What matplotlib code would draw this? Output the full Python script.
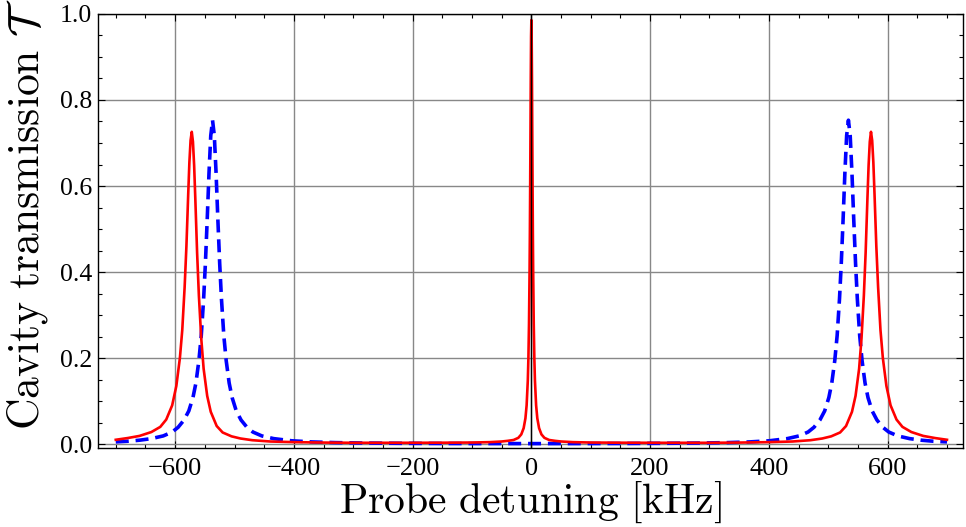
import numpy as np
import matplotlib
matplotlib.use('Agg')
import matplotlib.pyplot as plt
from matplotlib.ticker import MultipleLocator

plt.rcParams['mathtext.fontset'] = 'cm'
plt.rcParams['font.family'] = ['Liberation Serif', 'DejaVu Serif']

# red solid curve
red_x = [-700, -680, -660, -640, -625, -615, -605, -598, -592, -588, -584, -581,
         -578, -576, -574, -572, -570, -568, -566, -563, -560, -556, -552, -546,
         -540, -530, -520, -505, -490, -470, -440, -400, -350, -300, -250, -200,
         -150, -100, -70, -50, -40, -30, -22, -17, -13, -10, -8, -6, -5, -4, -3,
         -2.5, -2, -1.5, -1, -0.5, 0,
         0.5, 1, 1.5, 2, 2.5, 3, 4, 5, 6, 8, 10, 13, 17, 22, 30, 40, 50, 70, 100,
         150, 200, 250, 300, 350, 400, 440, 470, 490, 505, 520, 530, 540, 546,
         552, 556, 560, 563, 566, 568, 570, 572, 574, 576, 578, 581, 584, 588,
         592, 598, 605, 615, 625, 640, 660, 680, 700]
red_y = [0.010, 0.014, 0.019, 0.028, 0.040, 0.057, 0.090, 0.135, 0.200, 0.265,
         0.365, 0.460, 0.580, 0.655, 0.706, 0.726, 0.703, 0.648, 0.570, 0.445,
         0.345, 0.245, 0.175, 0.112, 0.075, 0.042, 0.027, 0.018, 0.013, 0.009,
         0.006, 0.0045, 0.0035, 0.003, 0.003, 0.003, 0.0032, 0.0036, 0.0045,
         0.006, 0.0075, 0.0095, 0.0145, 0.0225, 0.037, 0.06, 0.09, 0.148, 0.199,
         0.279, 0.406, 0.494, 0.603, 0.726, 0.851, 0.948, 0.986,
         0.948, 0.851, 0.726, 0.603, 0.494, 0.406, 0.279, 0.199, 0.148, 0.09,
         0.06, 0.037, 0.0225, 0.0145, 0.0095, 0.0075, 0.006, 0.0045, 0.0036,
         0.0032, 0.003, 0.003, 0.003, 0.0035, 0.0045, 0.006, 0.009, 0.013, 0.018,
         0.027, 0.042, 0.075, 0.112, 0.175, 0.245, 0.345, 0.445, 0.570, 0.648,
         0.703, 0.726, 0.706, 0.655, 0.580, 0.460, 0.365, 0.265, 0.200, 0.135,
         0.090, 0.057, 0.040, 0.028, 0.019, 0.014, 0.010]

# blue dashed curve
blue_x = [-700, -680, -660, -640, -620, -605, -595, -585, -577, -570, -565, -560,
          -556, -552, -549, -546, -543, -540, -537, -534, -531, -528, -525, -522,
          -518, -514, -509, -504, -497, -489, -479, -469, -454, -434, -404, -370,
          -330, -280, -220, -150, -80, 0,
          80, 150, 220, 280, 330, 367, 401, 431, 451, 466, 476, 486, 494, 501,
          506, 511, 515, 519, 522, 525, 528, 531, 534, 537, 540, 543, 546, 549,
          553, 557, 562, 567, 574, 582, 592, 602, 617, 637, 657, 677, 700]
blue_y = [0.0051, 0.0066, 0.009, 0.0127, 0.019, 0.028, 0.039, 0.056, 0.077, 0.108,
          0.142, 0.194, 0.252, 0.338, 0.421, 0.521, 0.629, 0.717, 0.753, 0.717,
          0.629, 0.521, 0.421, 0.338, 0.252, 0.194, 0.142, 0.108, 0.077, 0.056,
          0.039, 0.028, 0.019, 0.0127, 0.0077, 0.0050, 0.0034, 0.0024, 0.0018,
          0.0014, 0.0012, 0.0011,
          0.0012, 0.0014, 0.0018, 0.0024, 0.0034, 0.0050, 0.0077, 0.0127, 0.019,
          0.028, 0.039, 0.056, 0.077, 0.108, 0.142, 0.194, 0.252, 0.338, 0.421,
          0.521, 0.629, 0.717, 0.753, 0.717, 0.629, 0.521, 0.421, 0.338, 0.252,
          0.194, 0.142, 0.108, 0.077, 0.056, 0.039, 0.028, 0.019, 0.0127, 0.009,
          0.0066, 0.0051]

fig = plt.figure(figsize=(9.66, 5.27), dpi=100)
ax = fig.add_axes([0.1014, 0.150, 0.8955, 0.8235])

ax.grid(True, which='major', color='#888888', lw=1.0)
ax.set_axisbelow(True)

ax.plot(blue_x, blue_y, color='#0000ff', lw=2.6, ls=(0, (3.6, 1.9)), zorder=3)
ax.plot(red_x, red_y, color='#ff0000', lw=1.9, zorder=4)
ax.axvline(0, color='black', lw=1.0, zorder=5)

ax.set_xlim(-730, 727)
ax.set_ylim(-0.009, 1.0)
ax.xaxis.set_minor_locator(MultipleLocator(50))
ax.yaxis.set_minor_locator(MultipleLocator(0.05))
ax.set_yticks([0.0, 0.2, 0.4, 0.6, 0.8, 1.0])
ax.set_yticklabels(['0.0', '0.2', '0.4', '0.6', '0.8', '1.0'])
ax.set_xticks([-600, -400, -200, 0, 200, 400, 600])
ax.set_xticklabels(['\u2212600', '\u2212400', '\u2212200', '0', '200', '400', '600'])
ax.tick_params(which='both', direction='in', top=True, right=True, width=0.8)
ax.tick_params(axis='x', labelsize=19, pad=7)
ax.tick_params(axis='y', labelsize=18.5, pad=4)
ax.tick_params(which='major', length=5)
ax.tick_params(which='minor', length=3)
for s in ax.spines.values():
    s.set_linewidth(1.0)

ax.set_xlabel(r'$\mathrm{Probe\ detuning\ [kHz]}$', fontsize=30)
ax.xaxis.set_label_coords(0.5, -0.074)
ax.set_ylabel(r'$\mathrm{Cavity\ transmission}\ \mathcal{T}$', fontsize=31.5)
ax.yaxis.set_label_coords(-0.056, 0.539)

plt.savefig('out.png', dpi=100)
